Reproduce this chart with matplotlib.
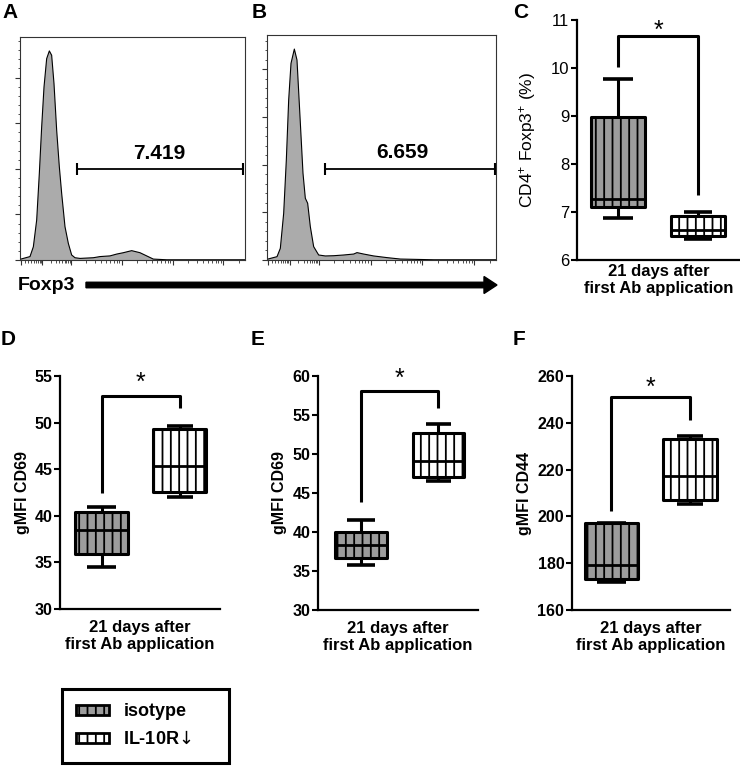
import numpy as np
import matplotlib
matplotlib.use('Agg')
import matplotlib.pyplot as plt
from matplotlib.patches import Patch, FancyArrow
from matplotlib import transforms
from matplotlib.ticker import FixedLocator, MultipleLocator

plt.rcParams['font.family'] = ['Liberation Sans', 'DejaVu Sans']
plt.rcParams['mathtext.fontset'] = 'custom'
plt.rcParams['mathtext.rm'] = 'Liberation Sans'
plt.rcParams['mathtext.it'] = 'Liberation Sans:italic'
plt.rcParams['mathtext.bf'] = 'Liberation Sans:bold'
plt.rcParams['hatch.linewidth'] = 1.3
plt.rcParams['hatch.color'] = 'black'

W, H = 740, 766

# ---------------- data ----------------
# Flow histograms (Foxp3 channel 0-1000, event count)
hist_a_channel = [0, 44.4, 59.3, 74.1, 85.9, 96.3, 106.7, 118.5, 130.4, 140.7, 151.1, 163.0,
                  174.8, 185.2, 200.0, 214.8, 229.6, 244.4, 266.7, 325.9, 355.6, 400.0,
                  429.6, 459.3, 496.3, 533.3, 563.0, 592.6, 651.9, 1000]
hist_a_count = [0.3, 1.5, 5.8, 17.5, 38.0, 58.4, 75.9, 88.3, 91.7, 89.8, 77.4, 56.9,
                40.9, 29.2, 14.6, 7.3, 2.2, 1.0, 0.7, 1.0, 1.5, 1.8,
                2.6, 3.2, 4.1, 3.2, 1.8, 0.4, 0.1, 0.1]
hist_b_channel = [0, 43.7, 58.2, 72.8, 84.4, 94.6, 104.8, 119.4, 131.0, 142.6, 157.2, 167.4,
                  177.6, 189.2, 203.8, 225.6, 254.7, 291.1, 334.8, 378.5, 393.0, 422.1,
                  465.8, 524.0, 582.2, 727.8, 1000]
hist_b_count = [0.3, 1.4, 4.9, 19.6, 42.0, 67.1, 82.5, 88.5, 83.9, 62.9, 36.4, 25.9,
                23.8, 14.0, 5.6, 2.1, 1.7, 1.8, 2.1, 2.5, 3.1, 2.5,
                1.7, 1.0, 0.4, 0.1, 0.1]
gate_a = [252, 993]
gate_b = [252, 994]
gate_labels = ['7.419', '6.659']

groups = ['isotype', 'IL-10R$\\!\\downarrow$']
group_fill = ['#9c9c9c', 'white']

# box stats: [whisker low, Q1, median, Q3, whisker high]
c_isotype = [6.87, 7.10, 7.28, 8.97, 9.78]
c_il10r = [6.43, 6.49, 6.62, 6.91, 7.00]
d_isotype = [34.5, 35.86, 38.5, 40.46, 40.93]
d_il10r = [42.0, 42.6, 45.3, 49.3, 49.6]
e_isotype = [35.75, 36.7, 38.3, 40.0, 41.6]
e_il10r = [46.5, 47.05, 49.1, 52.7, 53.9]
f_isotype = [172.0, 173.1, 179.3, 197.1, 197.1]
f_il10r = [205.1, 207.1, 217.3, 232.9, 234.3]

# significance brackets: [left end, top, right end], star height
c_bracket = [10.03, 10.67, 7.36]
d_bracket = [42.4, 52.9, 51.6]
e_bracket = [43.8, 58.1, 55.9]
f_bracket = [202.1, 250.9, 241.4]
star_y = [10.93, 55.0, 60.5, 258.0]

c_yticks = [6, 7, 8, 9, 10, 11]
d_yticks = [30, 35, 40, 45, 50, 55]
e_yticks = [30, 35, 40, 45, 50, 55, 60]
f_yticks = [160, 180, 200, 220, 240, 260]

xlabel_text = '21 days after\nfirst Ab application'

# ---------------- figure ----------------
fig = plt.figure(figsize=(W / 100, H / 100), dpi=100)


def px_axes(x0, y0, x1, y1):
    return fig.add_axes([x0 / W, 1 - y1 / H, (x1 - x0) / W, (y1 - y0) / H])


def hist_panel(rect, ch, cnt, ytop, gate, gate_y, label, label_pos):
    ax = px_axes(*rect)
    ax.fill_between(ch, cnt, 0, facecolor='#ababab', edgecolor='none')
    ax.plot(ch, cnt, color='black', lw=0.8)
    ax.set_xlim(0, 1000)
    ax.set_ylim(0, ytop)
    for s in ax.spines.values():
        s.set_linewidth(0.8)
        s.set_color('#333333')
    majors = [4, 99, 226, 452, 678, 904]
    minors = []
    for d in [226, 452, 678, 904]:
        for k in range(2, 10):
            v = d + 226 * np.log10(k)
            if v < 1000:
                minors.append(v)
    for k in range(2, 10):
        minors.append(99 + 127 * np.log10(k))
    minors += [20, 35, 50, 62, 72, 80, 87, 93]
    ax.xaxis.set_major_locator(FixedLocator(majors))
    ax.xaxis.set_minor_locator(FixedLocator(minors))
    ax.yaxis.set_major_locator(MultipleLocator(20))
    ax.yaxis.set_minor_locator(MultipleLocator(4))
    ax.tick_params(which='major', direction='out', length=3.5, width=0.8, color='#333333',
                   labelbottom=False, labelleft=False, top=False, right=False)
    ax.tick_params(which='minor', direction='out', length=1.8, width=0.6, color='#333333',
                   top=False, right=False)
    ax.plot(gate, [gate_y, gate_y], color='black', lw=1.3, marker='|', ms=8, mew=1.5)
    ax.text(label_pos[0], label_pos[1], label, ha='center', va='baseline',
            fontsize=15, fontweight='bold')
    return ax


hist_panel((20, 37, 245, 260), hist_a_channel, hist_a_count, 97.8, gate_a, 39.9,
           gate_labels[0], (619, 44.5))
hist_panel((267, 35, 496, 260), hist_b_channel, hist_b_count, 94.4, gate_b, 38.2,
           gate_labels[1], (590, 42.7))


def box_panel(rect, stats_pair, xlim, width, yticks, bracket, sy, ylabel,
              bold_ticks, tick_fs, ylabel_fs, ylabel_bold, ylabel_x, xlabel_y):
    ax = px_axes(*rect)
    keys = ['whislo', 'q1', 'med', 'q3', 'whishi']
    stats = []
    for s, g in zip(stats_pair, groups):
        d = dict(zip(keys, s))
        d['fliers'] = []
        d['label'] = g
        stats.append(d)
    res = ax.bxp(stats, positions=[1, 2], widths=width, patch_artist=True,
                 showfliers=False, capwidths=[width * 0.55, width * 0.5],
                 boxprops=dict(linewidth=2.2, edgecolor='black'),
                 whiskerprops=dict(linewidth=2.2, color='black', solid_capstyle='butt'),
                 capprops=dict(linewidth=2.6, color='black', solid_capstyle='butt'),
                 medianprops=dict(linewidth=2.0, color='black', solid_capstyle='butt'),
                 manage_ticks=False)
    for patch, fc in zip(res['boxes'], group_fill):
        patch.set_facecolor(fc)
        patch.set_hatch('||')
        patch.set_joinstyle('round')
    ax.plot([1, 1, 2, 2], [bracket[0], bracket[1], bracket[1], bracket[2]],
            color='black', lw=2.2, solid_joinstyle='round', solid_capstyle='butt')
    st = transforms.offset_copy(ax.transData, fig=fig, x=0, y=-14, units='dots')
    ax.text(1.5, sy, '*', ha='center', va='baseline', fontsize=18, transform=st)
    ax.set_xlim(*xlim)
    ax.set_ylim(yticks[0], yticks[-1])
    ax.set_yticks(yticks, labels=[str(v) for v in yticks], fontsize=tick_fs,
                  fontweight='bold' if bold_ticks else 'normal')
    ax.set_xticks([])
    for side in ['top', 'right']:
        ax.spines[side].set_visible(False)
    for side in ['left', 'bottom']:
        ax.spines[side].set_linewidth(1.6)
    ax.tick_params(axis='y', direction='out', length=4, width=1.5, pad=1.5)
    ax.set_ylabel(ylabel, fontsize=ylabel_fs,
                  fontweight='bold' if ylabel_bold else 'normal')
    ax.yaxis.set_label_coords(ylabel_x, 0.5)
    ax.set_xlabel(xlabel_text, fontsize=12, fontweight='bold', linespacing=1.15)
    ax.xaxis.set_label_coords(0.5, xlabel_y)
    return ax


# C
box_panel((577, 20, 740, 260), [c_isotype, c_il10r], (0.482, 2.527), 0.68, c_yticks,
          c_bracket, star_y[0], r'CD4$^{+}$ Foxp3$^{+}$ (%)', False, 12, 12.5, False,
          -0.239, -0.017)
# D
box_panel((60, 376, 220, 609), [d_isotype, d_il10r], (0.471, 2.51), 0.675, d_yticks,
          d_bracket, star_y[1], 'gMFI CD69', True, 11.5, 11.5, True, -0.1875, -0.047)
# E
box_panel((318, 376, 478, 610), [e_isotype, e_il10r], (0.445, 2.51), 0.67, e_yticks,
          e_bracket, star_y[2], 'gMFI CD69', True, 11.5, 11.5, True, -0.194, -0.047)
# F
box_panel((572, 376, 730, 610), [f_isotype, f_il10r], (0.497, 2.51), 0.68, f_yticks,
          f_bracket, star_y[3], 'gMFI CD44', True, 11.5, 11.5, True, -0.253, -0.047)

# overlay for panel letters and axis arrow
ov = fig.add_axes([0, 0, 1, 1], zorder=5)
ov.set_xlim(0, W)
ov.set_ylim(H, 0)
ov.axis('off')
ov.patch.set_alpha(0)
for letter, (lx, ly) in zip('ABCDEF', [(2, 18.5), (252, 18.5), (513, 18.5),
                                        (1, 345), (251, 345), (513, 345)]):
    ov.text(lx, ly, letter, fontsize=15, fontweight='bold', ha='left', va='baseline')
ov.text(18, 290, 'Foxp3', fontsize=14, fontweight='bold', ha='left', va='baseline')
ov.add_patch(FancyArrow(86, 285, 411, 0, width=5.5, head_width=17, head_length=13,
                        length_includes_head=True, color='black'))

# legend
handles = [Patch(facecolor=fc, edgecolor='black', hatch='||', linewidth=2.0)
           for fc in group_fill]
leg = fig.legend(handles, groups, loc='upper left',
                 bbox_to_anchor=(62 / W, 1 - 764 / H, 167 / W, 75 / H),
                 mode='expand', borderaxespad=0, fancybox=False, framealpha=1,
                 edgecolor='black', handlelength=1.8, handleheight=0.5,
                 handletextpad=0.8, borderpad=0.8, labelspacing=0.6,
                 prop=dict(size=13, weight='bold'))
leg.get_frame().set_linewidth(2.2)
for t in leg.get_texts():
    t.set_math_fontfamily('dejavusans')

fig.savefig('out.png', dpi=100)
